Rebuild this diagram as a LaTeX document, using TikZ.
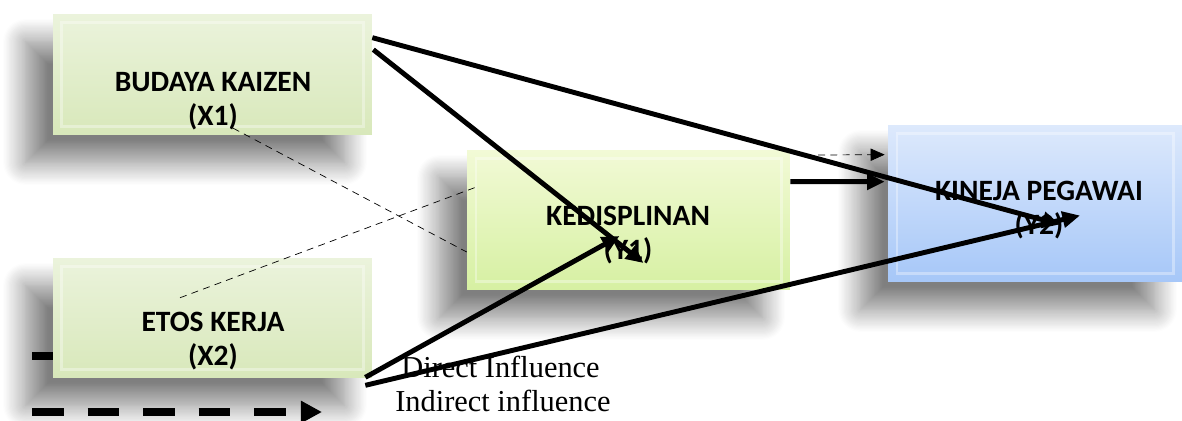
\documentclass[tikz,border=0pt]{standalone}
\usepackage{fontspec}
\setmainfont{Liberation Serif}
\newfontfamily\boxfont{Carlito}
\usepackage{tikz}
\usetikzlibrary{arrows.meta,positioning,calc,shadows.blur}
\definecolor{kaizentop}{HTML}{EBF3DC}
\definecolor{kaizenbot}{HTML}{D8E8BA}
\definecolor{disiptop}{HTML}{F2FAD6}
\definecolor{disipbot}{HTML}{D6F0A2}
\definecolor{kinerjatop}{HTML}{DDE9FC}
\definecolor{kinerjabot}{HTML}{A6C7F8}
\tikzset{varbox/.style={rectangle, inner sep=0pt, blur shadow={shadow xshift=-0.55cm, shadow yshift=-0.55cm, shadow blur radius=0.45cm, shadow blur steps=20, shadow opacity=50},
    path picture={\draw[white,opacity=.35,line width=1.5pt] ([shift={(5pt,-5pt)}]path picture bounding box.north west) rectangle ([shift={(-5pt,5pt)}]path picture bounding box.south east);}},
  boxtext/.style={align=center, font=\boxfont\bfseries\fontsize{16.8}{19.5}\selectfont},
  legendtext/.style={anchor=west, inner sep=0pt, font=\fontsize{17.3}{20}\selectfont},
  influence/.style={line width=2.8pt, -{Triangle[length=10pt,width=9pt]}},
  thinlink/.style={thin, dash pattern=on 4pt off 3pt}}
\begin{document}
\begin{tikzpicture}[x=0.02cm,y=-0.02cm]
	\useasboundingbox (0,0) rectangle (1182,421);
	% variable boxes
	\node[varbox, minimum width=6.38cm, minimum height=2.42cm, top color=kaizentop, bottom color=kaizenbot] (b1) at (212.5,74.5) {};
	\node[varbox, minimum width=6.38cm, minimum height=2.40cm, top color=kaizentop, bottom color=kaizenbot] (b2) at (212.5,318) {};
	\node[varbox, minimum width=6.46cm, minimum height=2.80cm, top color=disiptop, bottom color=disipbot] (b3) at (628.5,220) {};
	\node[varbox, minimum width=5.88cm, minimum height=3.14cm, top color=kinerjatop, bottom color=kinerjabot] (b4) at (1035,203.5) {};
	\node[boxtext] (t1) at (213,101) {BUDAYA KAIZEN\\(X1)};
	\node[boxtext] (t2) at (213,341) {ETOS KERJA\\(X2)};
	\node[boxtext] (t3) at (628,235) {KEDISPLINAN\\(Y1)};
	\node[boxtext] (t4) at (1039,210) {KINEJA PEGAWAI\\(Y2)};
	% legend
	\node[legendtext] (l1) at (401,367) {Direct Influence};
	\node[legendtext] (l2) at (395,401) {Indirect influence};
	\coordinate (ld) at (32,356);
	\coordinate (li) at (32,412);
	\coordinate (li2) at (322,412);
	\draw[line width=4.5pt] (ld) -- (ld -| b2.west);
	\draw[line width=4.5pt, dash pattern=on 18pt off 13.6pt, -{Triangle[length=12pt,width=12pt]}] (li) -- (li2);
	% indirect (dashed)
	\coordinate (d1) at ($(t1.south)+(20,-8)$);
	\coordinate (d2) at ($(t2.north)+(-33,-8)$);
	\coordinate (d3) at (818,155);
	\draw[thinlink] (d1) -- ($(b3.west)+(0,32)$);
	\draw[thinlink] (d2) -- ($(b3.north west)+(8,38)$);
	\draw[thinlink, -{Triangle[length=8pt,width=7pt]}] (d3) -- ($(b4.north west)+(-3,30)$);
	% direct (solid)
	\draw[influence] ($(b1.north east)+(0,24)$) -- ($(b4.center)+(25,21)$);
	\draw[influence] ($(b1.north east)+(1,36)$) -- ($(b3.center)+(15,43)$);
	\draw[influence] ($(b2.south east)+(-7,-1)$) -- ($(b3.center)+(-9,16)$);
	\draw[influence] ($(b2.south east)+(-7,7)$) -- ($(b4.center)+(45,12)$);
	\draw[influence] ($(b3.north east)+(0,32)$) -- ($(b4.north west)+(-3,57)$);
\end{tikzpicture}
\end{document}
